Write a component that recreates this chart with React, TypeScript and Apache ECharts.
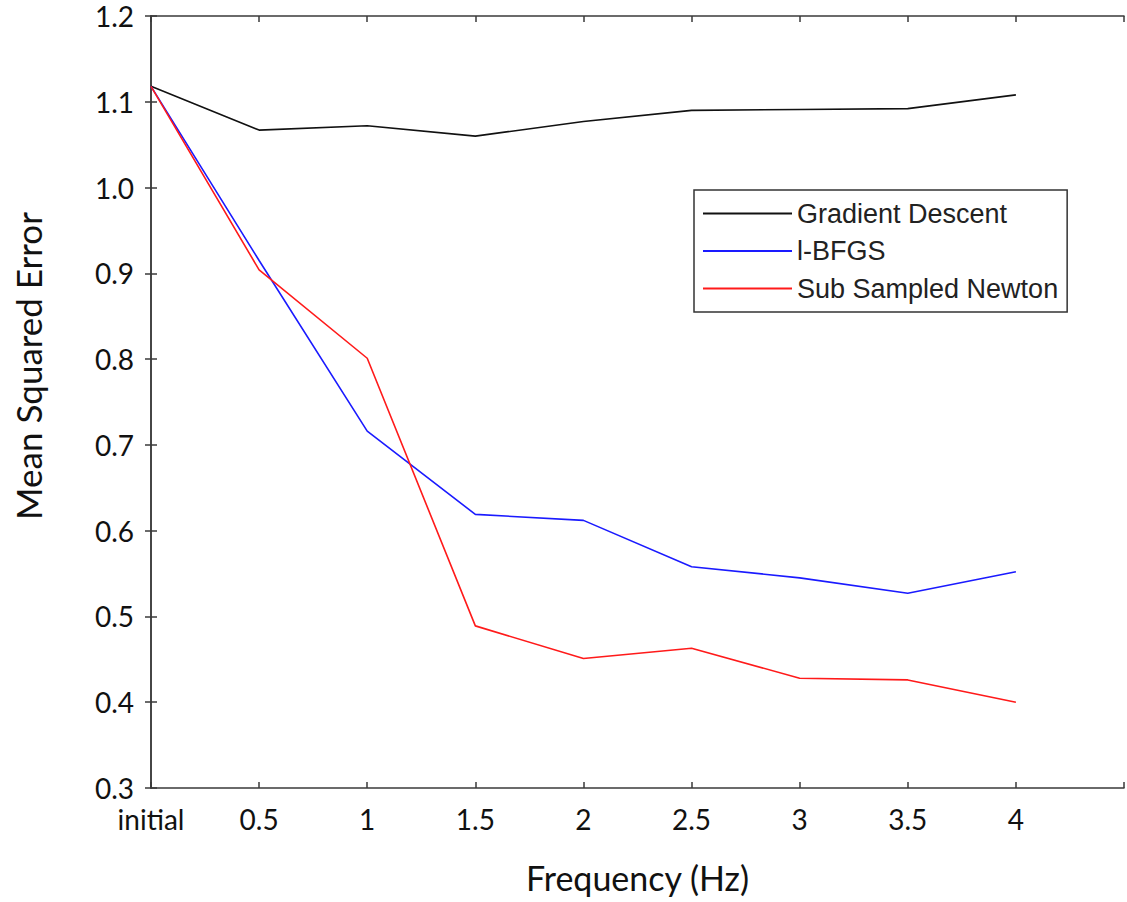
import React, { useEffect, useRef } from "react";
import * as echarts from "echarts";

const xPositions = [0, 0.5, 1, 1.5, 2, 2.5, 3, 3.5, 4];
const gradientDescent = [1.118, 1.067, 1.072, 1.06, 1.077, 1.09, 1.091, 1.092, 1.108];
const lbfgs = [1.118, 0.915, 0.716, 0.619, 0.612, 0.558, 0.545, 0.527, 0.552];
const subSampledNewton = [1.118, 0.904, 0.801, 0.489, 0.451, 0.463, 0.428, 0.426, 0.4];
const seriesNames = ["Gradient Descent", "l-BFGS", "Sub Sampled Newton"];
const seriesColors = ["#111111", "#1a1aff", "#ff1a1a"];

const toPairs = (vals: number[]) => vals.map((v, i) => [xPositions[i], v]);

export default function App() {
  const ref = useRef<HTMLDivElement>(null);
  useEffect(() => {
    if (!ref.current) return;
    const chart = echarts.init(ref.current, null, { renderer: "svg" });
    const font = "Lato";
    const axisColor = "#3a3a3a";
    chart.setOption({
      animation: false,
      backgroundColor: "#ffffff",
      grid: { left: 151, right: 1, top: 16, bottom: 114 },
      graphic: [
        {
          type: "text",
          x: 28,
          y: 366,
          rotation: Math.PI / 2,
          style: {
            text: "Mean Squared Error",
            fontFamily: font,
            fontSize: 35,
            fill: "#111",
            textAlign: "center",
            textVerticalAlign: "middle",
          },
        },
      ],
      legend: {
        orient: "vertical",
        left: 694,
        top: 190,
        data: seriesNames,
        icon: "rect",
        itemWidth: 89,
        itemHeight: 2,
        itemGap: 10.5,
        padding: [10, 9, 10, 9],
        borderColor: "#333333",
        borderWidth: 1.5,
        textStyle: { fontFamily: "Liberation Sans", fontSize: 27, lineHeight: 27, color: "#222222" },
      },
      xAxis: [
        {
          type: "value",
          min: 0,
          max: 4.5,
          interval: 0.5,
          name: "Frequency (Hz)",
          nameLocation: "middle",
          nameGap: 72,
          nameTextStyle: { fontFamily: font, fontSize: 34, color: "#111" },
          axisLine: { lineStyle: { color: axisColor, width: 1.5 } },
          axisTick: { inside: true, length: 6, lineStyle: { color: axisColor, width: 1.5 } },
          splitLine: { show: false },
          axisLabel: {
            margin: 17,
            fontFamily: font,
            fontSize: 28,
            color: "#111",
            formatter: (v: number) => (v === 0 ? "initial" : v >= 4.5 ? "" : String(v)),
          },
        },
        {
          type: "value",
          position: "top",
          min: 0,
          max: 4.5,
          interval: 0.5,
          axisLine: { lineStyle: { color: axisColor, width: 1.5 } },
          axisTick: { inside: true, length: 6, lineStyle: { color: axisColor, width: 1.5 } },
          axisLabel: { show: false },
          splitLine: { show: false },
        },
      ],
      yAxis: [
        {
          type: "value",
          min: 0.3,
          max: 1.2,
          interval: 0.1,
          axisLine: { show: true, lineStyle: { color: axisColor, width: 1.5 } },
          axisTick: { show: true, inside: true, length: 6, lineStyle: { color: axisColor, width: 1.5 } },
          splitLine: { show: false },
          axisLabel: {
            margin: 17,
            fontFamily: font,
            fontSize: 28,
            color: "#111",
            formatter: (v: number) => v.toFixed(1),
          },
        },
        {
          type: "value",
          position: "right",
          min: 0.3,
          max: 1.2,
          interval: 0.1,
          axisLine: { show: true, lineStyle: { color: axisColor, width: 1.5 } },
          axisTick: { show: true, inside: true, length: 6, lineStyle: { color: axisColor, width: 1.5 } },
          axisLabel: { show: false },
          splitLine: { show: false },
        },
      ],
      series: [gradientDescent, lbfgs, subSampledNewton].map((vals, i) => ({
        name: seriesNames[i],
        type: "line",
        data: toPairs(vals),
        symbol: "none",
        color: seriesColors[i],
        lineStyle: { color: seriesColors[i], width: 1.6 },
      })),
    });
    return () => chart.dispose();
  }, []);
  return (
    <div
      ref={ref}
      style={{ position: "absolute", left: 0, top: 0, width: 1127, height: 902 }}
    />
  );
}
